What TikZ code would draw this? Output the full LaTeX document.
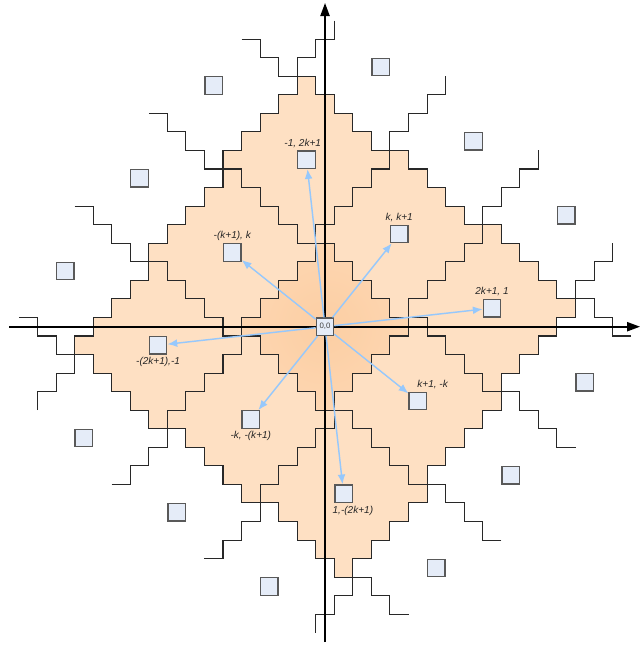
\documentclass[tikz,border=0pt]{standalone}
\usepackage{fontspec}
\setmainfont{Liberation Sans}
\usepackage{tikz}
\usetikzlibrary{arrows.meta, positioning}
\definecolor{tileorange}{RGB}{254, 224, 195}
\definecolor{coreorange}{RGB}{252, 206, 163}
\definecolor{coreedge}{RGB}{253, 214, 177}
\definecolor{cellblue}{RGB}{229, 236, 248}
\definecolor{vecblue}{RGB}{150, 200, 252}
\definecolor{edgegray}{RGB}{40, 40, 40}

\tikzset{
  pics/leetile/.style={code={
    \path[pic actions] (-0.5,4.5) -- (0.5,4.5) -- (0.5,3.5) -- (1.5,3.5) -- (1.5,2.5) -- (2.5,2.5) -- (2.5,1.5)
      -- (3.5,1.5) -- (3.5,0.5) -- (4.5,0.5) -- (4.5,-0.5) -- (3.5,-0.5) -- (3.5,-1.5) -- (2.5,-1.5)
      -- (2.5,-2.5) -- (1.5,-2.5) -- (1.5,-3.5) -- (0.5,-3.5) -- (0.5,-4.5) -- (-0.5,-4.5) -- (-0.5,-3.5)
      -- (-1.5,-3.5) -- (-1.5,-2.5) -- (-2.5,-2.5) -- (-2.5,-1.5) -- (-3.5,-1.5) -- (-3.5,-0.5)
      -- (-4.5,-0.5) -- (-4.5,0.5) -- (-3.5,0.5) -- (-3.5,1.5) -- (-2.5,1.5) -- (-2.5,2.5) -- (-1.5,2.5)
      -- (-1.5,3.5) -- (-0.5,3.5) -- cycle;
  }}
}

\begin{document}
\begin{tikzpicture}[x=0.5cm, y=0.5cm,
    tile/.style={draw=edgegray, line width=0.8pt, fill=tileorange},
    stair/.style={draw=edgegray, line width=0.8pt},
    cell/.style={draw=black!65, line width=1pt, fill=cellblue, minimum size=0.47cm, inner sep=0pt},
    lbl/.style={font=\fontsize{7.7}{9}\selectfont\itshape, text=black!85, inner sep=1pt},
    vec/.style={-{Latex[length=7.5pt, width=6pt]}, line width=1.1pt, vecblue},
    axis/.style={-{Triangle[length=10pt, width=7pt]}, line width=1.4pt}]
    \useasboundingbox (-17.52,-17.21) rectangle (17.04,17.61);

    % the nine filled tiles
    \pic[tile] at (4,5) {leetile};
    \pic[tile] at (5,-4) {leetile};
    \pic[tile] at (-4,-5) {leetile};
    \pic[tile] at (-5,4) {leetile};
    \pic[tile] at (9,1) {leetile};
    \pic[tile] at (-1,9) {leetile};
    \pic[tile] at (1,-9) {leetile};
    \pic[tile] at (-9,-1) {leetile};
    \pic[draw=edgegray, line width=0.8pt, inner color=coreorange, outer color=coreedge] at (0,0) {leetile};

    % outer staircases
    \draw[stair] (-4.5,15.5) -| (-3.5,14.5) -| (-2.5,13.5) -- (-1.5,13.5);
    \draw[stair] (0.5,16.5) |- (-0.5,15.5) |- (-1.5,14.5) -- (-1.5,13.5);
    \draw[stair] (-9.5,11.5) -| (-8.5,10.5) -| (-7.5,9.5) -| (-6.5,8.5) -- (-5.5,8.5);
    \draw[stair] (-13.5,6.5) -| (-12.5,5.5) -| (-11.5,4.5) -| (-10.5,3.5) -- (-9.5,3.5);
    \draw[stair] (6.5,13.5) |- (5.5,12.5) |- (4.5,11.5) |- (3.5,10.5) -- (3.5,9.5);
    \draw[stair] (11.5,9.5) |- (10.5,8.5) |- (9.5,7.5) |- (8.5,6.5) -- (8.5,5.5);
    \draw[stair] (15.5,4.5) |- (14.5,3.5) |- (13.5,2.5) -- (13.5,1.5);
    \draw[stair] (16.5,-0.5) -| (15.5,0.5) -| (14.5,1.5) -- (13.5,1.5);
    \draw[stair] (13.5,-6.5) -| (12.5,-5.5) -| (11.5,-4.5) -| (10.5,-3.5) -- (9.5,-3.5);
    \draw[stair] (9.5,-11.5) -| (8.5,-10.5) -| (7.5,-9.5) -| (6.5,-8.5) -- (5.5,-8.5);
    \draw[stair] (4.5,-15.5) -| (3.5,-14.5) -| (2.5,-13.5) -- (1.5,-13.5);
    \draw[stair] (-0.5,-16.5) |- (0.5,-15.5) |- (1.5,-14.5) -- (1.5,-13.5);
    \draw[stair] (-6.5,-12.5) -| (-5.5,-11.5) -| (-4.5,-10.5) -| (-3.5,-9.5);
    \draw[stair] (-11.5,-8.5) -| (-10.5,-7.5) -| (-9.5,-6.5) -| (-8.5,-5.5);
    \draw[stair] (-15.5,-4.5) |- (-14.5,-3.5) |- (-13.5,-2.5) -- (-13.5,-1.5);
    \draw[stair] (-16.5,0.5) -| (-15.5,-0.5) -| (-14.5,-1.5) -- (-13.5,-1.5);

    % axes
    \coordinate (xmin) at (-17.02,0);
    \coordinate (xmax) at (16.98,0);
    \coordinate (ymin) at (0,-17.0);
    \coordinate (ymax) at (0,17.45);
    \draw[axis] (xmin) -- (xmax);
    \draw[axis] (ymin) -- (ymax);

    % tile centres
    \node[cell, font=\fontsize{6}{7}\selectfont, text=black!75] (origin) at (0,0) {0,0};
    \node[cell] (top) at (-1,9) {};
    \node[cell] (upleft) at (-5,4) {};
    \node[cell] (upright) at (4,5) {};
    \node[cell] (right) at (9,1) {};
    \node[cell] (left) at (-9,-1) {};
    \node[cell] (downleft) at (-4,-5) {};
    \node[cell] (downright) at (5,-4) {};
    \node[cell] (bottom) at (1,-9) {};
    \node[cell] (far1) at (-6,13) {};
    \node[cell] (far2) at (-10,8) {};
    \node[cell] (far3) at (-14,3) {};
    \node[cell] (far4) at (3,14) {};
    \node[cell] (far5) at (8,10) {};
    \node[cell] (far6) at (13,6) {};
    \node[cell] (far7) at (14,-3) {};
    \node[cell] (far8) at (10,-8) {};
    \node[cell] (far9) at (6,-13) {};
    \node[cell] (far10) at (-3,-14) {};
    \node[cell] (far11) at (-8,-10) {};
    \node[cell] (far12) at (-13,-6) {};

    % labels
    \node[lbl, above=1pt of top, xshift=-0.1cm] (ltop) {-1, 2k+1};
    \node[lbl, above=1pt of upleft] (lupleft) {-(k+1), k};
    \node[lbl, above=1pt of upright] (lupright) {k, k+1};
    \node[lbl, above=1pt of right] (lright) {2k+1, 1};
    \node[lbl, above=1pt of downright, xshift=0.4cm] (ldownright) {k+1, -k};
    \node[lbl, below=1pt of left] (lleft) {-(2k+1),-1};
    \node[lbl, below=1pt of downleft] (ldownleft) {-k, -(k+1)};
    \node[lbl, below=1pt of bottom, xshift=0.25cm] (lbottom) {1,-(2k+1)};

    % vectors
    \draw[vec] (origin) -- (top);
    \draw[vec] (origin) -- (upleft);
    \draw[vec] (origin) -- (upright);
    \draw[vec] (origin) -- (right);
    \draw[vec] (origin) -- (left);
    \draw[vec] (origin) -- (downleft);
    \draw[vec] (origin) -- (downright);
    \draw[vec] (origin) -- (bottom);
\end{tikzpicture}
\end{document}
